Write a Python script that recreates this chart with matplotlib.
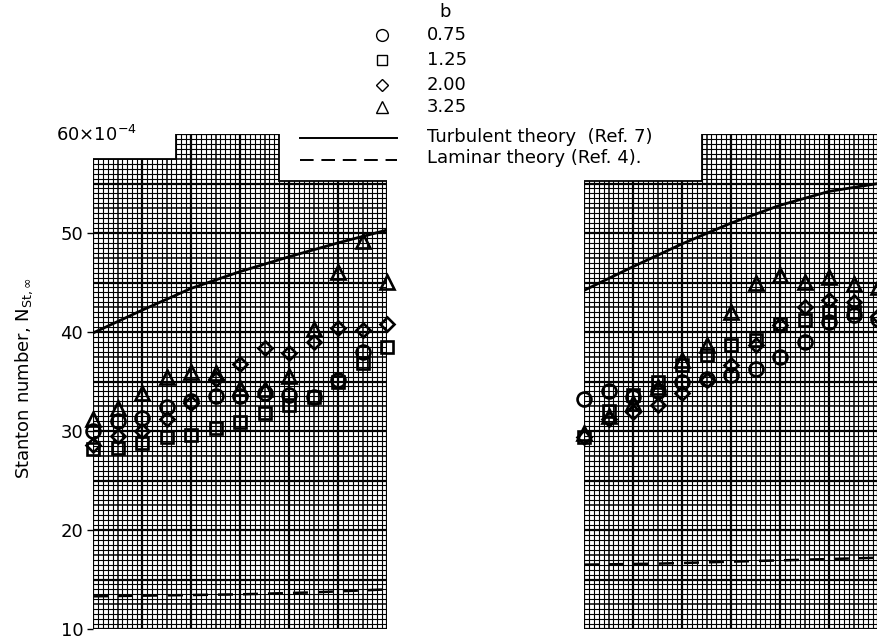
import numpy as np
import matplotlib.pyplot as plt
from matplotlib.collections import LineCollection
from matplotlib.patches import Polygon
from matplotlib.lines import Line2D

plt.rcParams['font.family'] = ['DejaVu Sans']

# 13 equally spaced measuring stations along the plate
station = np.arange(13)

# Stanton number (x 10^-4), left plot
left_b075 = [30.0, 31.0, 31.3, 32.4, 33.0, 33.5, 33.5, 33.8, 33.6, 33.4, 35.2, 38.0, np.nan]
left_b125 = [28.2, 28.3, 28.8, 29.4, 29.6, 30.3, 30.9, 31.8, 32.6, 33.4, 35.0, 36.9, 38.5]
left_b200 = [28.6, 29.5, 30.0, 31.2, 32.8, 35.3, 36.8, 38.4, 37.9, 39.0, 40.4, 40.2, 40.8]
left_b325 = [31.2, 32.3, 33.8, 35.5, 36.0, 35.9, 34.3, 34.2, 35.6, 40.3, 46.1, 49.2, 45.1]

# Stanton number (x 10^-4), right plot
right_b075 = [33.2, 34.0, 33.4, 34.0, 35.0, 35.3, 35.7, 36.3, 37.5, 39.0, 41.0, 41.7, 41.3]
right_b125 = [29.4, 32.0, 33.6, 35.0, 36.7, 37.7, 38.7, 39.2, 40.8, 41.2, 42.0, 42.0, np.nan]
right_b200 = [29.4, 31.2, 31.9, 32.6, 33.8, 35.2, 36.7, 38.7, 40.7, 42.5, 43.2, 43.0, 41.6]
right_b325 = [29.8, 31.5, 32.8, 34.4, 37.2, 38.7, 42.0, 44.9, 45.8, 45.1, 45.6, 44.8, 44.5]

# theory curves
turb_station = [0, 2, 4, 6, 8, 10, 12]
left_turb = [39.9, 42.2, 44.4, 46.1, 47.6, 49.0, 50.3]
right_turb = [44.2, 46.6, 48.9, 51.0, 52.8, 54.2, 55.0]
lam_station = [0, 3, 6, 9, 12]
left_lam = [13.3, 13.4, 13.5, 13.7, 14.0]
right_lam = [16.5, 16.6, 16.8, 17.0, 17.2]

b_labels = ["0.75", "1.25", "2.00", "3.25"]
markers = ["o", "s", "D", "^"]
msizes = [10, 8.5, 7.2, 9.5]

W, H = 877, 639


def fx(x):
    return x / W


def fy(y):
    return 1 - y / H


def draw_paper(ax, outline):
    # graph paper, clipped to the cut-out shape
    poly = Polygon(outline, closed=True, facecolor='white', edgecolor='black', lw=1.3, zorder=0)
    ax.add_patch(poly)
    groups = {0: [], 1: [], 2: []}
    for i in range(64):
        x = i * 0.2
        kind = 2 if i % 10 == 0 else (1 if i % 5 == 0 else 0)
        groups[kind].append([(x, 10), (x, 60)])
    for j in range(101):
        y = 10 + j * 0.5
        kind = 2 if j % 10 == 0 else (1 if j % 5 == 0 else 0)
        groups[kind].append([(0, y), (12.6, y)])
    widths = {0: 0.8, 1: 1.1, 2: 1.6}
    for kind, segs in groups.items():
        lc = LineCollection(segs, colors='black', linewidths=widths[kind], zorder=1)
        ax.add_collection(lc)
        lc.set_clip_path(poly)


fig = plt.figure(figsize=(8.77, 6.39), dpi=100)
ax1 = fig.add_axes([fx(93), fy(629), 294 / W, (629 - 134) / H])
ax2 = fig.add_axes([fx(584), fy(629), 294 / W, (629 - 134) / H])

draw_paper(ax1, [(0, 10), (0, 57.5), (3.4, 57.5), (3.4, 60), (7.6, 60),
                 (7.6, 55.25), (12, 55.25), (12, 10)])
draw_paper(ax2, [(0, 10), (0, 55.25), (4.8, 55.25), (4.8, 60), (12.6, 60), (12.6, 10)])

for ax, series, turb, lam in [
    (ax1, [left_b075, left_b125, left_b200, left_b325], left_turb, left_lam),
    (ax2, [right_b075, right_b125, right_b200, right_b325], right_turb, right_lam),
]:
    ax.plot(turb_station, turb, color='black', lw=2.0, zorder=3)
    ax.plot(lam_station, lam, color='black', lw=1.8, dashes=(6, 4), zorder=3)
    for vals, m, ms in zip(series, markers, msizes):
        ax.plot(station, vals, linestyle='none', marker=m, ms=ms, mfc='none',
                mec='black', mew=1.9, zorder=4, clip_on=False)
    ax.set_xlim(0, 12)
    ax.set_ylim(10, 60)
    ax.set_facecolor('none')
    for s in ax.spines.values():
        s.set_visible(False)
    ax.set_xticks([])

ax1.set_yticks([10, 20, 30, 40, 50])
ax1.tick_params(axis='y', length=4, width=1, pad=3, labelsize=13)
ax2.set_yticks([])

fig.text(fx(56), fy(135), r"60$\times$10$^{-4}$", ha='left', va='center', fontsize=13)
fig.text(fx(24), fy(378), r"Stanton number, $\mathregular{N_{St,\infty}}$", rotation=90,
         ha='center', va='center', fontsize=13)

# legend
fig.text(fx(445), fy(12), "b", ha='center', va='center', fontsize=13)
for row, lab, m, ms in zip([35, 60, 85, 107], b_labels, markers, msizes):
    fig.add_artist(Line2D([fx(382)], [fy(row)], transform=fig.transFigure, marker=m,
                          ms=ms * 0.85, mfc='none', mec='black', mew=1.0))
    fig.text(fx(427), fy(row), lab, ha='left', va='center', fontsize=13)

fig.add_artist(Line2D([fx(300), fx(397)], [fy(138), fy(138)], transform=fig.transFigure,
                      color='black', lw=1.4))
fig.add_artist(Line2D([fx(300), fx(397)], [fy(160), fy(160)], transform=fig.transFigure,
                      color='black', lw=1.4, dashes=(7, 4)))
fig.text(fx(427), fy(137), "Turbulent theory  (Ref. 7)", ha='left', va='center', fontsize=13)
fig.text(fx(427), fy(158), "Laminar theory (Ref. 4).", ha='left', va='center', fontsize=13)

fig.savefig("out.png", dpi=100)
